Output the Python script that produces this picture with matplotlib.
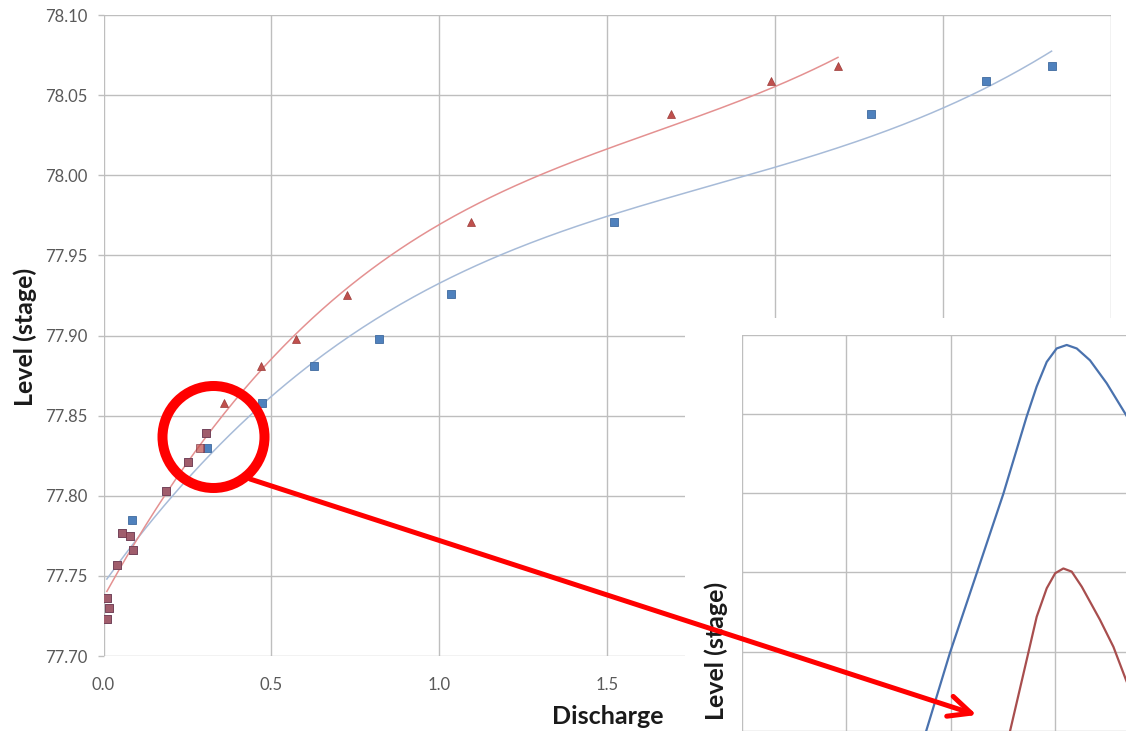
import numpy as np
import matplotlib
matplotlib.use("Agg")
import matplotlib.pyplot as plt
from matplotlib.patches import Ellipse, FancyArrowPatch, ArrowStyle
from matplotlib.ticker import FormatStrFormatter, MultipleLocator

plt.rcParams['font.family'] = ['Lato', 'DejaVu Sans']

# ---- gauged readings: discharge vs. level (stage) ----
blue_q = [0.010, 0.017, 0.011, 0.039, 0.054, 0.078, 0.085, 0.088, 0.185, 0.251,
          0.307, 0.306, 0.473, 0.626, 0.819, 1.034, 1.520, 2.285, 2.627, 2.823]
blue_stage = [77.723, 77.730, 77.736, 77.757, 77.777, 77.775, 77.785, 77.766, 77.803, 77.821,
              77.830, 77.839, 77.858, 77.881, 77.898, 77.926, 77.971, 78.038, 78.059, 78.068]

red_q = [0.010, 0.017, 0.011, 0.039, 0.054, 0.078, 0.088, 0.185, 0.251, 0.288,
         0.306, 0.360, 0.469, 0.572, 0.725, 1.095, 1.691, 1.988, 2.187]
red_stage = [77.723, 77.730, 77.736, 77.757, 77.777, 77.775, 77.766, 77.803, 77.821, 77.830,
             77.839, 77.858, 77.881, 77.898, 77.925, 77.971, 78.038, 78.059, 78.068]

x_ticks = [0.0, 0.5, 1.0, 1.5, 2.0, 2.5, 3.0]
y_ticks = [77.70, 77.75, 77.80, 77.85, 77.90, 77.95, 78.00, 78.05, 78.10]

# ---- hydrograph panel (grid units) ----
hydro_blue_x = [1.764, 1.993, 2.249, 2.503, 2.727, 2.823, 2.919, 3.014, 3.110,
                3.206, 3.333, 3.493, 3.678, 3.80]
hydro_blue_y = [-0.01, 0.985, 1.99, 2.99, 3.97, 4.35, 4.66, 4.83, 4.874,
                4.83, 4.68, 4.39, 3.99, 3.70]
hydro_red_x = [2.567, 2.743, 2.823, 2.919, 3.000, 3.078, 3.158, 3.254, 3.429, 3.557, 3.678, 3.80]
hydro_red_y = [-0.01, 0.985, 1.44, 1.80, 1.99, 2.05, 2.01, 1.82, 1.40, 1.06, 0.64, 0.25]

W, H = 1126, 732
fig = plt.figure(figsize=(W / 100, H / 100), dpi=100)
fig.patch.set_facecolor('white')


def fx(px):
    return px / W


def fy(py):
    return 1 - py / H


BLUE = '#4F81BD'
RED = '#C0504D'
GRID = '#BEBEBE'
TXT = '#595959'

# ---- main rating-curve axes ----
ax = fig.add_axes([fx(103.5), fy(656), (1111 - 103.5) / W, (656 - 15) / H])
ax.set_xlim(0, 3.0)
ax.set_ylim(77.70, 78.10)
ax.set_xticks(x_ticks)
ax.set_yticks(y_ticks)
ax.xaxis.set_major_formatter(FormatStrFormatter('%.1f'))
ax.yaxis.set_major_formatter(FormatStrFormatter('%.2f'))
ax.grid(True, color=GRID, lw=1.0)
ax.set_axisbelow(True)
for s in ax.spines.values():
    s.set_visible(False)
ax.tick_params(axis='y', length=4.3, width=1.0, color=GRID, pad=7, labelsize=12, labelcolor=TXT)
ax.tick_params(axis='x', length=0, pad=15, labelsize=12, labelcolor=TXT)

# polynomial trendlines (order 3) over each series' discharge range
for q, st, col in [(blue_q, blue_stage, '#A7BBD8'), (red_q, red_stage, '#E49191')]:
    q = np.asarray(q)
    coef = np.polyfit(q, st, 3)
    qq = np.linspace(q.min(), q.max(), 300)
    ax.plot(qq, np.polyval(coef, qq), color=col, lw=1.1, zorder=2)

ax.plot(blue_q, blue_stage, ls='none', marker='s', ms=5.5, color=BLUE,
        mec='#3F6A9E', mew=0.6, zorder=3)
red_q_arr = np.asarray(red_q)
red_st_arr = np.asarray(red_stage)
low = red_st_arr < 77.85
ax.plot(red_q_arr[low], red_st_arr[low], ls='none', marker='s', ms=5.5, color=RED,
        alpha=0.72, mec='#7A3040', mew=0.6, zorder=4)
ax.plot(red_q_arr[~low], red_st_arr[~low], ls='none', marker='^', ms=6.0, color=RED,
        mec='#9A3A38', mew=0.5, zorder=4)

ax.set_xlabel('Discharge', fontsize=18, fontweight='bold', color='#1A1A1A')
ax.xaxis.set_label_coords((608 - 103.5) / (1111 - 103.5), (656 - 716) / 641)
ax.xaxis.label.set_va('center')
ax.set_ylabel('Level (stage)', fontsize=18, fontweight='bold', color='#1A1A1A')
ax.yaxis.set_label_coords((25 - 103.5) / (1111 - 103.5), (656 - 337) / 641)
ax.yaxis.label.set_va('center')

# ---- white panel holding the hydrograph ----
panel = fig.add_axes([fx(685), 0, (W - 685) / W, (H - 318) / H], zorder=2)
panel.set_facecolor('white')
panel.set_xticks([])
panel.set_yticks([])
for s in panel.spines.values():
    s.set_visible(False)

ins_left, ins_top, ins_bot = 741.7, 335, 730.7
xmax = (W - ins_left) / 104.5
ins = fig.add_axes([fx(ins_left), fy(ins_bot), (W - ins_left) / W, (ins_bot - ins_top) / H], zorder=3)
ins.set_facecolor('white')
ins.set_xlim(0, xmax)
ins.set_ylim(0, 5)
ins.xaxis.set_major_locator(MultipleLocator(1))
ins.yaxis.set_major_locator(MultipleLocator(1))
ins.grid(True, color=GRID, lw=1.0)
ins.tick_params(length=0, labelbottom=False, labelleft=False)
for s in ins.spines.values():
    s.set_visible(False)
ins.plot(hydro_blue_x, hydro_blue_y, color='#4A72AE', lw=1.6, solid_joinstyle='round')
ins.plot(hydro_red_x, hydro_red_y, color='#A84E4E', lw=1.6, solid_joinstyle='round')
ins.set_ylabel('Level (stage)', fontsize=18, fontweight='bold', color='#1A1A1A')
ins.yaxis.set_label_coords((716.7 - ins_left) / (W - ins_left), (ins_bot - 651) / (ins_bot - ins_top))
ins.yaxis.label.set_va('center')

# ---- red highlight circle and arrow ----
r = 51
circ = Ellipse((fx(213.5), fy(437)), 2 * r / W, 2 * r / H, transform=fig.transFigure,
               fill=False, ec='#FF0000', lw=7.2, zorder=10)
fig.add_artist(circ)
arrow = FancyArrowPatch((fx(250), fy(479)), (fx(976.7), fy(715)), transform=fig.transFigure,
                        arrowstyle=ArrowStyle('->', head_length=16, head_width=7.5),
                        color='#FF0000', lw=3.6, shrinkA=0, shrinkB=0, zorder=10)
fig.add_artist(arrow)

fig.savefig('out.png', dpi=100, facecolor='white')
